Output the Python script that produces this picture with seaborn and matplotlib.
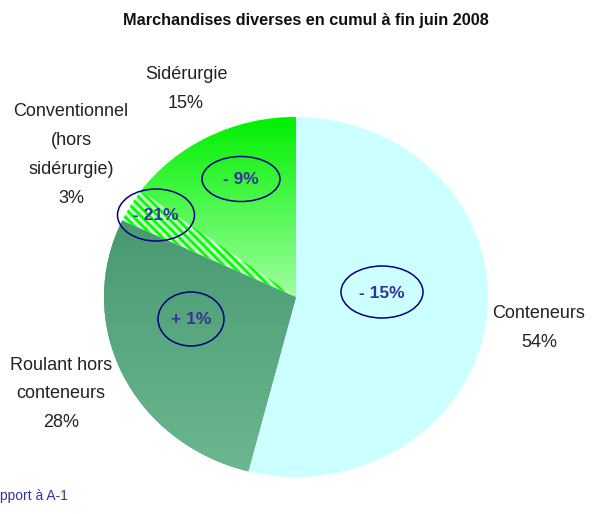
import numpy as np
import matplotlib
matplotlib.use("Agg")
import matplotlib.pyplot as plt
import seaborn as sns
from matplotlib.patches import Ellipse
from matplotlib.colors import LinearSegmentedColormap

# data
categories = ["Conteneurs", "Roulant hors\nconteneurs", "Conventionnel\n(hors\nsidérurgie)", "Sidérurgie"]
shares = [54, 28, 3, 15]
evolution = ["- 15%", "+ 1%", "- 21%", "- 9%"]

sns.set_theme(style="white")
plt.rcParams['font.family'] = ['Liberation Sans', 'DejaVu Sans']
plt.rcParams['hatch.linewidth'] = 2.0

W, H = 603, 514
fig = plt.figure(figsize=(W / 100, H / 100), dpi=100)
ax = fig.add_axes([0, 0, 1, 1])

# pie geometry in pixels (slightly flattened ellipse)
cx, cy, rx, ry = 296, 297, 192, 180

def px(x, y):
    return (x - cx) / rx, (cy - y) / ry

wedges, _ = ax.pie(shares, startangle=90, counterclock=False,
                   colors=["#CCFFFF", "#52A377", "#CCFFCC", "#66FF66"],
                   wedgeprops=dict(linewidth=0))
ax.set_aspect('auto')
ax.axis('off')

# gradient fills
def gradient(wedge, top, bottom, y0, y1):
    cmap = LinearSegmentedColormap.from_list("g", [bottom, top])
    grad = np.linspace(0, 1, 256).reshape(-1, 1)
    im = ax.imshow(grad, cmap=cmap, origin='lower', aspect='auto',
                   extent=(-1.05, 1.05, y0, y1), zorder=1.5)
    im.set_clip_path(wedge)

gradient(wedges[1], "#489970", "#6CB890", -1.0, 0.45)
gradient(wedges[3], "#00F000", "#A0FFA0", 0.0, 1.0)
ax.set_xlim(-cx / rx, (W - cx) / rx)
ax.set_ylim(-(H - cy) / ry, cy / ry)

# hatched "conventionnel" slice
wedges[2].set_hatch('\\\\\\\\')
wedges[2].set_edgecolor('#00FF00')
wedges[2].set_facecolor('#C8FFC8')
wedges[2].set_zorder(2)

# outside labels
lab_kw = dict(ha='center', va='center', fontsize=13, color='#222222', linespacing=1.9)
label_pos = [(539, 328), (61, 394), (71, 155), (186, 89)]
for cat, s, (x, y) in zip(categories, shares, label_pos):
    ax.text(*px(x, y), f"{cat}\n{s}%", **lab_kw)

# evolution ellipses
ell = [(382, 292, 82, 52), (191, 319, 66, 54), (156, 215, 77, 52), (241, 179, 78, 45)]
for txt, (x, y, w, h) in zip(evolution, ell):
    ax.add_patch(Ellipse(px(x, y), w / rx, h / ry, fill=False,
                         edgecolor='#000080', linewidth=1.1, zorder=4))
    ax.text(*px(x, y + 1), txt, ha='center', va='center', fontsize=12.5,
            color='#333399', fontweight='bold', zorder=5)

fig.text(306 / W, 1 - 20 / H, "Marchandises diverses en cumul à fin juin 2008",
         ha='center', va='center', fontsize=11.7, fontweight='bold', color='#111111')
fig.text(0, 1 - 496 / H, "pport à A-1", ha='left', va='center', fontsize=10, color='#3333AA')

fig.savefig("out.png", dpi=100)
